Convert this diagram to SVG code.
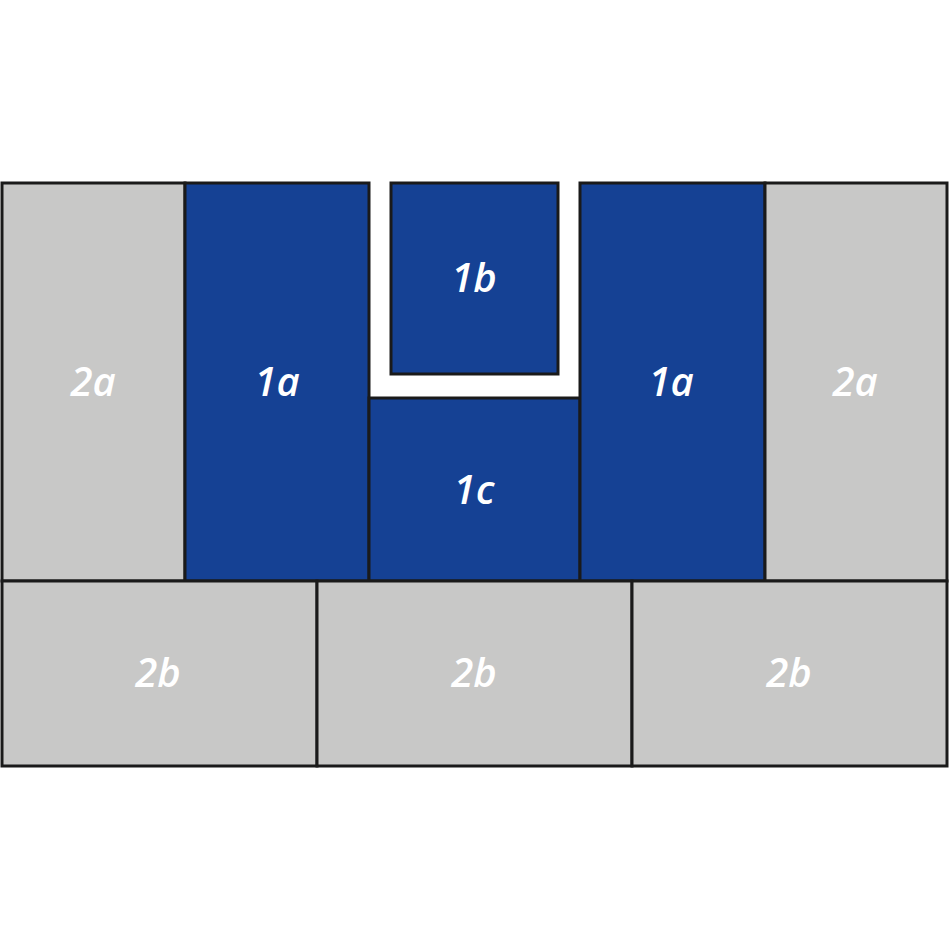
<svg xmlns="http://www.w3.org/2000/svg" width="950" height="950" viewBox="0 0 950 950">
<style>
.g{fill:#c8c8c7;stroke:#1a1a1a;stroke-width:3}
.b{fill:#154194;stroke:#1a1a1a;stroke-width:3}
text{font-family:"Open Sans","Noto Sans","DejaVu Sans",sans-serif;font-style:italic;font-weight:600;font-size:40px;fill:#ffffff;text-anchor:middle}
</style>
<rect width="950" height="950" fill="#ffffff"/>
<g id="n2a-left"><rect class="g" x="2" y="183" width="183" height="398"/><text x="93" y="396">2a</text></g>
<g id="n1a-left"><rect class="b" x="185" y="183" width="184" height="398"/><text x="277" y="396">1a</text></g>
<g id="n1b"><rect class="b" x="391" y="183" width="167" height="191"/><text x="474" y="292">1b</text></g>
<g id="n1c"><rect class="b" x="369" y="398" width="211" height="183"/><text x="474" y="504">1c</text></g>
<g id="n1a-right"><rect class="b" x="580" y="183" width="185" height="398"/><text x="671" y="396">1a</text></g>
<g id="n2a-right"><rect class="g" x="765" y="183" width="182" height="398"/><text x="855" y="396">2a</text></g>
<g id="n2b-left"><rect class="g" x="2" y="581" width="315" height="185"/><text x="158" y="687">2b</text></g>
<g id="n2b-mid"><rect class="g" x="317" y="581" width="315" height="185"/><text x="474" y="687">2b</text></g>
<g id="n2b-right"><rect class="g" x="632" y="581" width="315" height="185"/><text x="789" y="687">2b</text></g>
<g id="connectors"></g>
</svg>
